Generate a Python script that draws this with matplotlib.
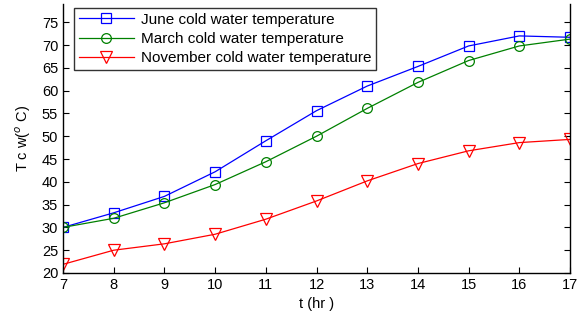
import matplotlib
matplotlib.use("Agg")
import matplotlib.pyplot as plt

plt.rcParams['font.family'] = ['Liberation Sans', 'DejaVu Sans']

hours = [7, 8, 9, 10, 11, 12, 13, 14, 15, 16, 17]
june = [30, 33.2, 36.8, 42.2, 49.0, 55.6, 61.0, 65.3, 69.8, 72.0, 71.7]
march = [30, 32.0, 35.4, 39.4, 44.4, 50.0, 56.1, 61.8, 66.6, 69.8, 71.3]
november = [21.9, 25.0, 26.4, 28.5, 31.8, 35.8, 40.2, 44.0, 46.8, 48.6, 49.3]

fig = plt.figure(figsize=(5.85, 3.14), dpi=100)
ax = fig.add_axes([63/585, 1 - 273/314, 507/585, 269/314])

ax.plot(hours, june, color='blue', lw=0.9, marker='s', ms=7, mfc='none', mew=0.9,
        label='June cold water temperature')
ax.plot(hours, march, color='#008000', lw=0.9, marker='o', ms=7, mfc='none', mew=0.9,
        label='March cold water temperature')
ax.plot(hours, november, color='red', lw=0.9, marker='v', ms=8, mfc='none', mew=0.9,
        label='November cold water temperature')

ax.set_xlim(7, 17)
ax.set_ylim(20, 79)
ax.set_xticks(range(7, 18))
ax.set_yticks(range(20, 80, 5))
ax.tick_params(direction='in', labelsize=10.5, length=4, width=0.8, right=True)
ax.spines['top'].set_visible(False)
for s in ['left', 'right', 'bottom']:
    ax.spines[s].set_linewidth(1.0)

ax.set_xlabel('t (hr )', fontsize=10.5, labelpad=4)
ax.set_ylabel('T c w($^o$ C)', fontsize=10.5, labelpad=6)

leg = ax.legend(loc='upper left', bbox_to_anchor=(0.022, 0.985), fontsize=11,
                frameon=True, fancybox=False, edgecolor='black', handlelength=3.6,
                borderpad=0.3, labelspacing=0.35, handletextpad=0.5, borderaxespad=0)
leg.get_frame().set_linewidth(1.0)

fig.savefig('out.png', dpi=100)
